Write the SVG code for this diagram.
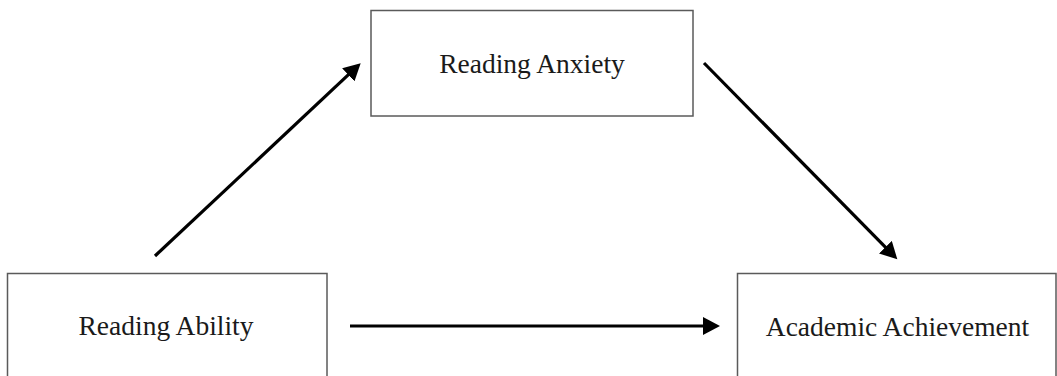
<svg xmlns="http://www.w3.org/2000/svg" width="1057" height="376" viewBox="0 0 1057 376">
<style>
.box{fill:#fff;stroke:#5a5a5a;stroke-width:1.5}
.lbl{font-family:"Liberation Serif","Times New Roman",serif;font-size:27.5px;fill:#1a1a1a;text-anchor:middle}
.conn{stroke:#000;stroke-width:3.2;fill:none;marker-end:url(#ah)}
</style>
<defs>
<marker id="ah" markerUnits="userSpaceOnUse" markerWidth="18" markerHeight="18" refX="1" refY="9" orient="auto">
<path d="M0,0 L17,9 L0,18 z" fill="#000"/>
</marker>
</defs>
<rect width="1057" height="376" fill="#fff"/>
<g id="node-reading-anxiety">
<rect class="box" x="371" y="10.5" width="322" height="105.5"/>
<text class="lbl" x="532" y="73">Reading Anxiety</text>
</g>
<g id="node-reading-ability">
<rect class="box" x="7.5" y="273.5" width="319.5" height="110"/>
<text class="lbl" x="166" y="335">Reading Ability</text>
</g>
<g id="node-academic-achievement">
<rect class="box" x="737.5" y="273.5" width="318.5" height="110"/>
<text class="lbl" x="897.5" y="336">Academic Achievement</text>
</g>
<g id="connectors">
<line class="conn" x1="155" y1="256" x2="349" y2="74.2"/>
<line class="conn" x1="704" y1="63" x2="886.1" y2="247.9"/>
<line class="conn" x1="350" y1="326" x2="704" y2="326"/>
</g>
</svg>
